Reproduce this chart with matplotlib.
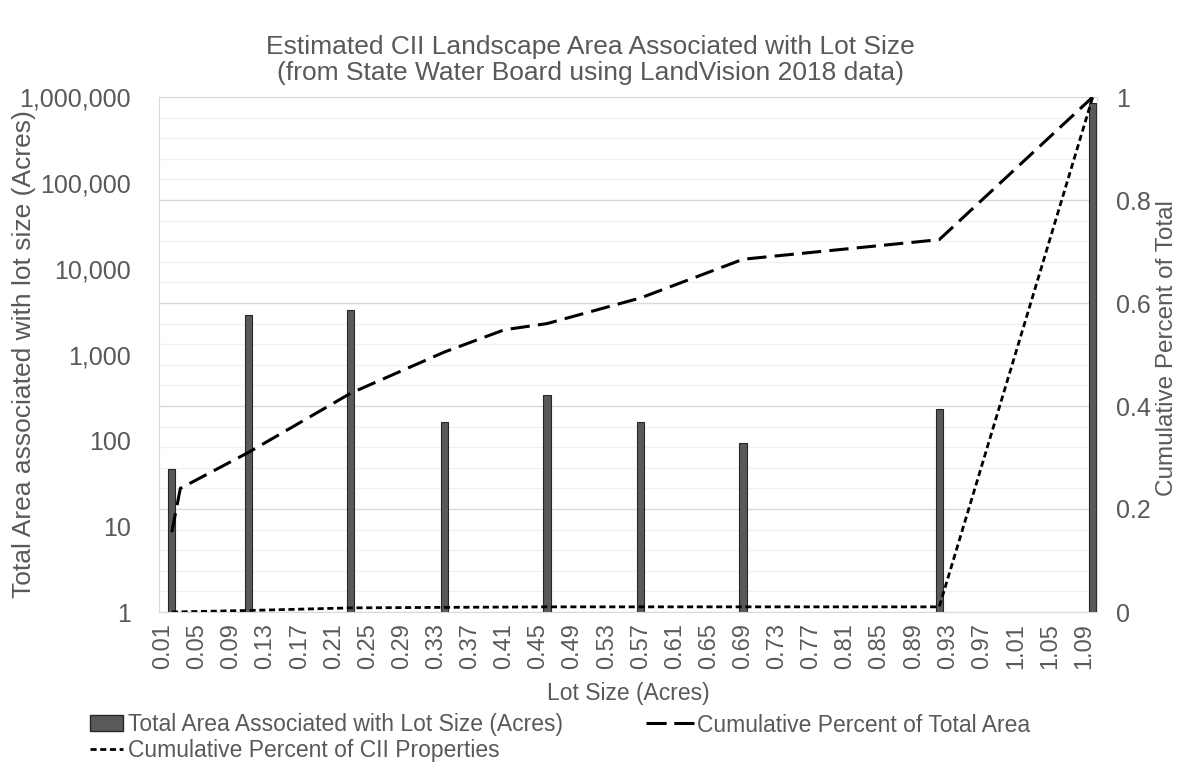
import matplotlib.pyplot as plt
import numpy as np
from matplotlib.ticker import FuncFormatter, FixedLocator
from matplotlib.patches import Patch
from matplotlib.lines import Line2D

plt.rcParams['font.family'] = ['Liberation Sans', 'DejaVu Sans']

# lot size categories (acres) on the x axis
lot_sizes = ["%.2f" % (i / 100) for i in range(1, 111)]

# bars: total area associated with lot size (acres)
bar_lots = [0.02, 0.11, 0.23, 0.34, 0.46, 0.57, 0.69, 0.92, 1.10]
bar_area = [46, 2900, 3300, 163, 340, 163, 92, 232, 860000]

# cumulative percent of total area
area_lots = [0.02, 0.03, 0.11, 0.23, 0.34, 0.41, 0.46, 0.57, 0.69, 0.92, 1.10]
area_cum = [0.155, 0.24, 0.31, 0.425, 0.505, 0.548, 0.56, 0.61, 0.685, 0.723, 1.0]

# cumulative percent of CII properties
cii_lots = [0.02, 0.11, 0.23, 0.34, 0.46, 0.57, 0.69, 0.92, 1.10]
cii_cum = [0.0, 0.003, 0.008, 0.009, 0.01, 0.01, 0.01, 0.01, 1.0]

ytick_vals = [1, 10, 100, 1000, 10000, 100000, 1000000]
rtick_vals = [0, 0.2, 0.4, 0.6, 0.8, 1.0]
rtick_labels = ["0", "0.2", "0.4", "0.6", "0.8", "1"]

grey = '#595959'


def pos(lot):
    return lot_sizes.index("%.2f" % lot)


fig = plt.figure(figsize=(11.81, 7.70), dpi=100)
ax = fig.add_axes([159 / 1181, 1 - 612 / 770, (1097 - 159) / 1181, (612 - 97) / 770])

# gridlines follow the right (0-1) axis, drawn behind the bars
for k in range(26):
    f = k * 0.04
    major = (k % 5 == 0)
    ax.plot([0, 1], [f, f], transform=ax.transAxes, zorder=0,
            color='#d9d9d9' if major else '#f0f0f0', lw=1.0 if major else 0.9)

x_bar = [pos(l) for l in bar_lots]
ax.bar(x_bar, bar_area, width=0.85, color='#595959', edgecolor='#262626',
       linewidth=0.8, zorder=2)
ax.set_yscale('log')
ax.set_ylim(1, 1000000)
ax.set_xlim(-0.5, len(lot_sizes) - 0.5)
ax.yaxis.set_major_locator(FixedLocator(ytick_vals))
ax.yaxis.set_minor_locator(FixedLocator([]))
ax.yaxis.set_major_formatter(FuncFormatter(lambda v, p: "{:,.0f}".format(v)))
ax.tick_params(axis='y', length=0, labelsize=18, colors=grey, pad=20)
ax.set_xticks(range(0, len(lot_sizes), 4))
ax.set_xticklabels(lot_sizes[::4], rotation=90)
ax.tick_params(axis='x', length=0, labelsize=17, colors=grey, pad=8)
ax.set_ylabel("Total Area associated with lot size (Acres)", fontsize=19, color=grey)
ax.yaxis.set_label_coords(-0.131, 0.5)
ax.set_xlabel("Lot Size (Acres)", fontsize=16.5, color=grey, labelpad=9)
for s in ax.spines.values():
    s.set_color('#d9d9d9')

ax2 = ax.twinx()
ax2.plot([pos(l) for l in area_lots], area_cum, color='black', lw=2.2,
         dashes=(6.3, 2.7), zorder=3)
ax2.plot([pos(l) for l in cii_lots], cii_cum, color='black', lw=2.0,
         dashes=(2.2, 1.3), zorder=3)
ax2.set_ylim(0, 1)
ax2.set_yticks(rtick_vals)
ax2.set_yticklabels(rtick_labels)
ax2.tick_params(axis='y', length=0, labelsize=18, colors=grey, pad=14)
ax2.set_ylabel("Cumulative Percent of Total", fontsize=17.5, color=grey)
ax2.yaxis.set_label_coords(1.063, 0.513)
for s in ax2.spines.values():
    s.set_visible(False)

fig.text(0.5, 1 - 35 / 770,
         "Estimated CII Landscape Area Associated with Lot Size\n(from State Water Board using LandVision 2018 data)",
         ha='center', va='top', fontsize=19, color=grey, linespacing=1.1)

bar_h = Patch(facecolor='#595959', edgecolor='#262626')
area_h = Line2D([0], [0], color='black', lw=2.2, dashes=(6.6, 2.5))
cii_h = Line2D([0], [0], color='black', lw=2.0, dashes=(2.2, 1.3))

leg1 = fig.legend([bar_h, cii_h],
                  ["Total Area Associated with Lot Size (Acres)",
                   "Cumulative Percent of CII Properties"],
                  loc='center left', bbox_to_anchor=(90 / 1181, 1 - 737.5 / 770),
                  frameon=False, fontsize=16.5, handlelength=1.44, handletextpad=0.2,
                  labelspacing=0.1, borderaxespad=0, borderpad=0)
leg2 = fig.legend([area_h], ["Cumulative Percent of Total Area"],
                  loc='center left', bbox_to_anchor=(646 / 1181, 1 - 725 / 770),
                  frameon=False, fontsize=16.5, handlelength=2.1, handletextpad=0.12,
                  borderaxespad=0, borderpad=0)
for lg in (leg1, leg2):
    for t in lg.get_texts():
        t.set_color(grey)

plt.savefig("out.png", dpi=100)
